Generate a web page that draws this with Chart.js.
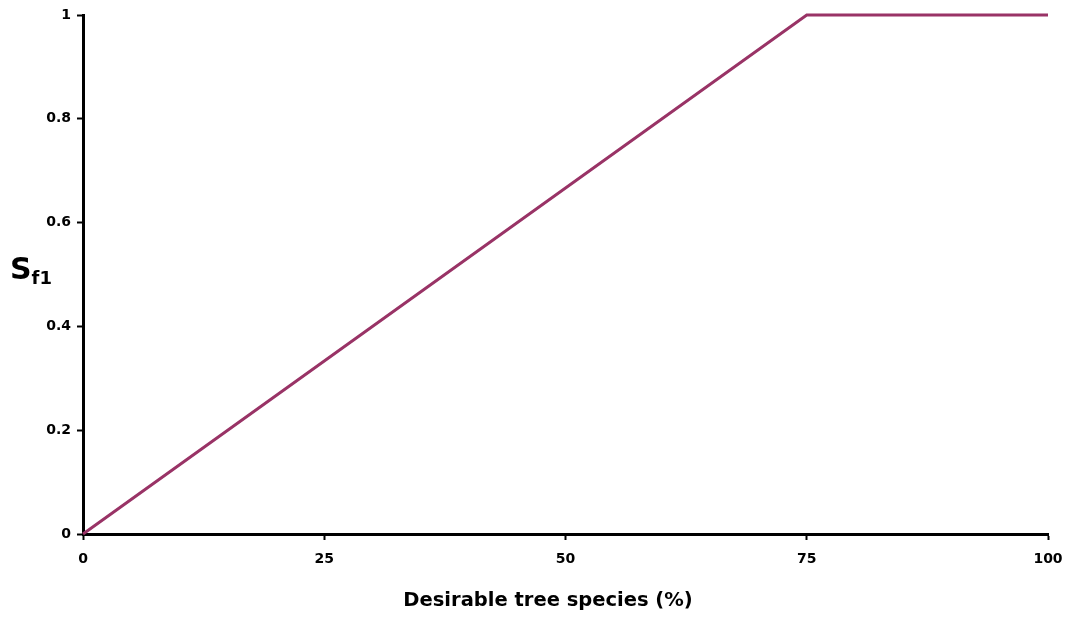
<!DOCTYPE html>
<html>
<head>
<meta charset="utf-8">
<script src="https://cdn.jsdelivr.net/npm/chart.js@4"></script>
<style>
  html, body { margin: 0; padding: 0; background: #fff; }
  #wrap { position: relative; width: 1068px; height: 618px; }
  .lab { position: absolute; font-family: "DejaVu Sans", Verdana, sans-serif; font-weight: bold;
         color: #000; line-height: 1; white-space: nowrap; }
  #ylab { left: 10px; top: 254px; font-size: 30px; }
  #ylab span { font-size: 18px; vertical-align: -5px; }
  #xlab { left: 548px; top: 590px; font-size: 19.5px; transform: translateX(-50%); }
</style>
</head>
<body>
<div id="wrap">
  <canvas id="myChart" width="1068" height="618"></canvas>
  <div id="ylab" class="lab">S<span>f1</span></div>
  <div id="xlab" class="lab">Desirable tree species (%)</div>
</div>
<script>
// Suitability of desirable tree species share
let xValues = [0, 75, 100];
let yValues = [0, 1, 1];
let xTicks = [0, 25, 50, 75, 100];
let yTicks = [0, 0.2, 0.4, 0.6, 0.8, 1];

let lineColor = '#993366';
let tickFont = { family: 'DejaVu Sans', weight: 'bold', size: 14 };

let points = xValues.map((x, i) => ({ x: x, y: yValues[i] }));

let ctx = document.getElementById('myChart').getContext('2d');
let chart1 = new Chart(ctx, {
    type: 'line',
    data: {
        datasets: [{
            data: points,
            borderColor: lineColor,
            borderWidth: 3,
            pointRadius: 0,
            tension: 0,
            clip: false
        }]
    },
    options: {
        responsive: false,
        animation: false,
        layout: { padding: { top: 15, right: 20, bottom: 0, left: 0 } },
        plugins: { legend: { display: false }, tooltip: { enabled: false } },
        scales: {
            x: {
                type: 'linear',
                min: 0,
                max: 100,
                afterBuildTicks: s => { s.ticks = xTicks.map(v => ({ value: v })); },
                afterFit: s => { s.height = 84; s.paddingLeft = 0; s.paddingRight = 0; },
                border: { color: '#000', width: 3 },
                grid: { drawOnChartArea: false, tickLength: 6, tickColor: '#000', tickWidth: 2 },
                ticks: { color: '#000', font: tickFont, padding: 11, maxRotation: 0,
                         callback: v => String(v) }
            },
            y: {
                min: 0,
                max: 1,
                afterBuildTicks: s => { s.ticks = yTicks.map(v => ({ value: v })); },
                afterFit: s => { s.width = 83; s.paddingTop = 0; s.paddingBottom = 0; },
                border: { color: '#000', width: 3 },
                grid: { drawOnChartArea: false, tickLength: 6, tickColor: '#000', tickWidth: 2 },
                ticks: { color: '#000', font: tickFont, padding: 6,
                         callback: v => String(Math.round(v * 10) / 10) }
            }
        }
    }
});
</script>
</body>
</html>
